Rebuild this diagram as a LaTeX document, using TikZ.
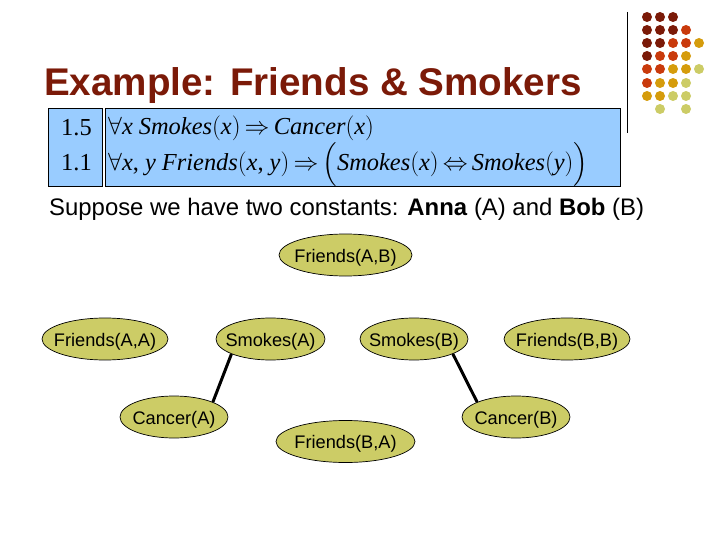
\documentclass[tikz,border=0pt]{standalone}
\usepackage{amssymb}
\usepackage{amsmath}
\usepackage{fontspec}
\setmainfont{Liberation Sans}
\newfontfamily\timesfont{Liberation Serif}
\usetikzlibrary{shapes.geometric}
\definecolor{titlered}{HTML}{7B1A08}
\definecolor{dotred}{HTML}{C93A0C}
\definecolor{dotgold}{HTML}{D59C0C}
\definecolor{olive}{HTML}{CCCC66}
\definecolor{boxblue}{HTML}{99CCFF}
\newcommand{\ital}[1]{{\timesfont\itshape #1}}
\tikzset{
	atom/.style={ellipse, draw=black, line width=0.7pt, fill=olive, inner xsep=-30pt, inner ysep=-8pt, text height=17pt, text depth=3pt, minimum height=42pt, font=\fontsize{18.2}{20}\selectfont},
	formulabox/.style={rectangle, draw=black, fill=boxblue, inner sep=0pt, line width=0.8pt},
	formula/.style={anchor=west, inner sep=0pt, font=\fontsize{24.4}{26}\timesfont}
}
\begin{document}
\begin{tikzpicture}[x=1pt, y=-1pt]
	\useasboundingbox (0,0) rectangle (720,540);

	\coordinate (ruleTop) at (627,12);
	\coordinate (ruleBot) at (627,133);
	\draw[line width=1pt] (ruleTop) -- (ruleBot);

	\foreach \x/\y/\c in {647/17/titlered, 660/17/titlered, 673/17/titlered,
		647/30/titlered, 660/30/titlered, 673/30/titlered, 686/30/dotred,
		647/43/titlered, 660/43/titlered, 673/43/dotred, 686/43/dotred, 699/43/dotgold,
		647/56/titlered, 660/56/dotred, 673/56/dotred, 686/56/dotgold,
		647/69/dotred, 660/69/dotred, 673/69/dotgold, 686/69/dotgold, 699/69/olive,
		647/83/dotred, 660/83/dotgold, 673/83/dotgold, 686/83/olive,
		647/96/dotgold, 660/96/dotgold, 673/96/olive, 686/96/olive,
		660/109/olive, 686/109/olive} {
		\fill[\c] (\x,\y) circle (5pt);
	}

	\node[anchor=west, inner sep=0pt, text=titlered, font=\fontsize{38.6}{41}\bfseries\selectfont] (title) at (44,86) {Example: Friends \& Smokers};

	\node[formulabox, minimum width=54.5pt, minimum height=78pt] (weights) at (75.25,147.5) {};
	\node[formulabox, minimum width=515.5pt, minimum height=78pt] (rules) at (362.75,147.5) {};

	\node[formula] (w1) at (61,128) {1.5};
	\node[formula] (w2) at (61,163) {1.1};
	\node[formula] (r1) at (108,128) {$\forall$\ital{x Smokes}$($\ital{x}$)\,{\Rightarrow}\,$\ital{Cancer}$($\ital{x}$)$};
	\node[formula] (r2) at (108,164) {$\forall$\ital{x}, \ital{y Friends}$($\ital{x}, \ital{y}$)\,{\Rightarrow}\,\Bigl($\ital{Smokes}$($\ital{x}$)\,{\Leftrightarrow}\,$\ital{Smokes}$($\ital{y}$)\Bigr)$};

	\node[anchor=west, inner sep=0pt, font=\fontsize{23.9}{26}\selectfont] (intro) at (49,209) {Suppose we have two constants: \textbf{Anna} (A) and \textbf{Bob} (B)};

	\begin{scope}[every node/.style={atom}]
		\node[minimum width=133pt] (fab) at (345.5,255) {Friends(A,B)};
		\node[minimum width=126pt] (faa) at (105,339) {Friends(A,A)};
		\node[minimum width=109pt] (sa) at (270.5,339) {Smokes(A)};
		\node[minimum width=108pt] (sb) at (414,339) {Smokes(B)};
		\node[minimum width=126pt] (fbb) at (567,339) {Friends(B,B)};
		\node[minimum width=108pt] (ca) at (174,417) {Cancer(A)};
		\node[minimum width=108pt] (cb) at (516,417) {Cancer(B)};
		\node[minimum width=139pt] (fba) at (345.5,441.5) {Friends(B,A)};
	\end{scope}

	\draw[line width=3pt] (sa.201) -- (ca.21);
	\draw[line width=3pt] (sb.-21) -- (cb.159);
\end{tikzpicture}
\end{document}
